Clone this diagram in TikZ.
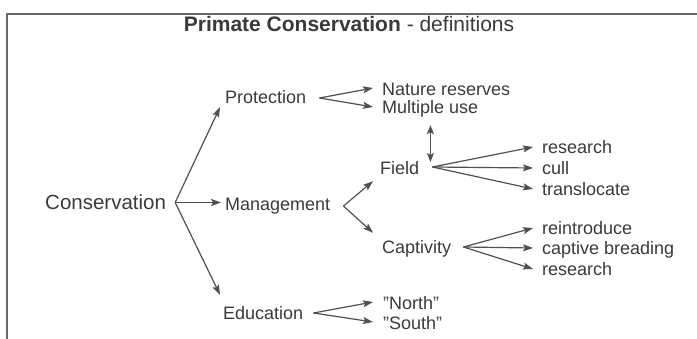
\documentclass[tikz,border=0pt]{standalone}
\usepackage{fontspec}
\setmainfont{Liberation Sans}
\usepackage{xcolor}
\usepackage{tikz}
\usetikzlibrary{arrows.meta,calc}
\definecolor{inkgray}{RGB}{58,58,58}
\definecolor{linegray}{RGB}{80,80,80}
\definecolor{framegray}{RGB}{105,105,105}

\begin{document}
\begin{tikzpicture}[x=1pt,y=-1pt,
  lbl/.style={anchor=base west,inner sep=0pt,text height=13pt,text depth=0pt,text=inkgray,font=\fontsize{18}{20}\selectfont},
  big/.style={lbl,text height=15pt,font=\fontsize{20.5}{22}\selectfont},
  arr/.style={-{Stealth[length=10pt,width=7pt,inset=2pt]},linegray,line width=1.2pt},
  dbl/.style={{Stealth[length=9pt,width=7pt,inset=2pt]}-{Stealth[length=9pt,width=7pt,inset=2pt]},linegray,line width=1.2pt}]
\useasboundingbox (0,0) rectangle (697,339);
\draw[framegray,line width=2pt] (697,14) -- (7,14) -- (7,339);
\node[anchor=base,inner sep=0pt,text=inkgray,font=\fontsize{21}{24}\selectfont] (title) at (349,32) {\textbf{Primate Conservation} - definitions};
% first level
\node[big] (cons) at (45,210) {Conservation};
\node[lbl] (prot) at (225,103.5) {Protection};
\node[lbl] (mgmt) at (225,210.5) {Management};
\node[lbl] (edu) at (223,319.5) {Education};
% second level
\node[lbl] (nat) at (382,95.5) {Nature reserves};
\node[lbl] (mult) at (382,113.5) {Multiple use};
\node[lbl] (field) at (380,174.5) {Field};
\node[lbl] (capt) at (382,253.5) {Captivity};
\node[lbl] (north) at (383,309.5) {\char34North\char34};
\node[lbl] (south) at (383,329.5) {\char34South\char34};
% third level
\node[lbl] (fres) at (542,153.5) {research};
\node[lbl] (cull) at (542,174.5) {cull};
\node[lbl] (trans) at (542,195.5) {translocate};
\node[lbl] (reint) at (542,234.5) {reintroduce};
\node[lbl] (breed) at (542,254.5) {captive breading};
\node[lbl] (cres) at (542,275.5) {research};
% fan points
\coordinate (cons-hub) at ([shift={(9,0)}]cons.east);
\coordinate (prot-hub) at ([shift={(13,1)}]prot.east);
\coordinate (mgmt-hub) at ([shift={(13,2)}]mgmt.east);
\coordinate (edu-hub) at ([shift={(10,0)}]edu.east);
\coordinate (field-hub) at ([shift={(13,-1)}]field.east);
\coordinate (capt-hub) at ([shift={(12,0)}]capt.east);
\draw[arr] (cons-hub) -- ([shift={(-5,3.5)}]prot.south west);
\draw[arr] (cons-hub) -- ([shift={(-4,-1.5)}]mgmt.west);
\draw[arr] (cons-hub) -- ([shift={(-3,-11.5)}]edu.north west);
\draw[arr] (prot-hub) -- ([shift={(-9,-1)}]nat.west);
\draw[arr] (prot-hub) -- ([shift={(-9,0)}]mult.west);
\draw[arr] (mgmt-hub) -- ([shift={(-7,6.5)}]field.south west);
\draw[arr] (mgmt-hub) -- ([shift={(-9,-7.5)}]capt.north west);
\draw[arr] (edu-hub) -- ([shift={(-10,-1)}]north.west);
\draw[arr] (edu-hub) -- ([shift={(-10,-1)}]south.west);
\draw[dbl] ($(field.east |- mult.south)+(11,11.5)$) -- ([shift={(11,-6)}]field.east);
\draw[arr] (field-hub) -- ([shift={(-9,0)}]fres.west);
\draw[arr] (field-hub) -- ([shift={(-9,0)}]cull.west);
\draw[arr] (field-hub) -- ([shift={(-9,0)}]trans.west);
\draw[arr] (capt-hub) -- ([shift={(-9,0)}]reint.west);
\draw[arr] (capt-hub) -- ([shift={(-9,0)}]breed.west);
\draw[arr] (capt-hub) -- ([shift={(-9,0)}]cres.west);
\end{tikzpicture}
\end{document}
